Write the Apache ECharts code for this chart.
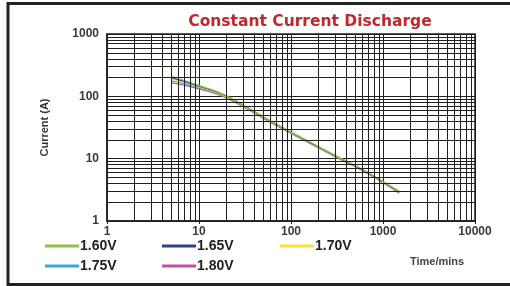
<!DOCTYPE html>
<html>
<head>
<meta charset="utf-8">
<script src="https://cdn.jsdelivr.net/npm/echarts@6/dist/echarts.min.js"></script>
<style>
  html, body { margin: 0; padding: 0; background: #fff; }
  #mycharts { width: 510px; height: 286px; }
</style>
</head>
<body>
<div id="mycharts"></div>
<script>
// data
var seriesNames = ['1.60V', '1.65V', '1.70V', '1.75V', '1.80V'];
var seriesColors = ['#8cc63f', '#2e3f97', '#f9e52c', '#3aa7e3', '#c0529b'];
var timeMins = [5, 10, 20, 60, 150, 340, 560, 930, 1500];
var current160 = [210, 150, 102, 40, 19.5, 10.3, 7.1, 4.6, 3.0];
var current165 = [200, 146, 100, 40, 19.3, 10.2, 7.0, 4.55, 2.95];
var current170 = [190, 142, 98, 39.5, 19, 10.1, 7.0, 4.5, 2.9];
var current175 = [178, 138, 96, 39, 18.8, 10, 6.9, 4.45, 2.85];
var current180 = [166, 132, 93, 38, 18.5, 9.8, 6.8, 4.4, 2.8];
var currents = [current160, current165, current170, current175, current180];

// log paper grid: decades and the 2..9 lines inside them
var xDecades = [1, 10, 100, 1000];
var yDecades = [1, 10, 100];
var minorSteps = [2, 3, 4, 5, 6, 7, 8, 9];

var myChart = echarts.init(document.getElementById('mycharts'));

var gridLines = [];
xDecades.forEach(function (d) {
    minorSteps.forEach(function (s) { gridLines.push({ xAxis: d * s }); });
});
yDecades.forEach(function (d) {
    minorSteps.forEach(function (s) { gridLines.push({ yAxis: d * s }); });
});

var series = [{
    name: 'grid',
    type: 'line',
    data: [],
    silent: true,
    markLine: {
        silent: true,
        symbol: 'none',
        label: { show: false },
        lineStyle: { color: '#231f20', width: 1, type: 'solid' },
        data: gridLines
    }
}];
// draw magenta first so green ends up on top
for (var i = seriesNames.length - 1; i >= 0; i--) {
    series.push({
        name: seriesNames[i],
        type: 'line',
        smooth: true,
        symbol: 'none',
        lineStyle: { width: 1.2, color: seriesColors[i] },
        itemStyle: { color: seriesColors[i] },
        data: timeMins.map(function (t, k) { return [t, currents[i][k]]; })
    });
}

var legendPos = [[45, 239], [162, 239], [280, 239], [45, 259], [162, 259]];
var legends = seriesNames.map(function (n, i) {
    return {
        data: [n],
        left: legendPos[i][0],
        top: legendPos[i][1],
        icon: 'rect',
        itemWidth: 34,
        itemHeight: 3,
        itemGap: 0,
        padding: 0,
        selectedMode: false,
        textStyle: {
            fontFamily: 'Liberation Sans',
            fontWeight: 'bold',
            fontSize: 14,
            color: '#222',
            padding: [0, 0, 0, -4]
        }
    };
});

function plainLabel(v) { return String(v); }

var option = {
    animation: false,
    backgroundColor: '#fff',
    title: {
        text: 'Constant Current Discharge',
        left: 305,
        textAlign: 'center',
        top: 9,
        textStyle: {
            fontFamily: 'DejaVu Sans',
            fontWeight: 'bold',
            fontSize: 15.5,
            color: '#c1272d'
        }
    },
    legend: legends,
    grid: {
        left: 107,
        right: 35,
        top: 34,
        bottom: 65,
        show: true,
        borderColor: '#231f20',
        borderWidth: 1.5
    },
    xAxis: {
        type: 'log',
        logBase: 10,
        min: 1,
        max: 10000,
        axisLine: { lineStyle: { color: '#231f20', width: 1.5 } },
        axisTick: { show: true, length: 3, lineStyle: { color: '#231f20' } },
        splitLine: { show: true, lineStyle: { color: '#231f20', width: 1 } },
        axisLabel: {
            formatter: plainLabel,
            fontFamily: 'Liberation Sans',
            fontWeight: 'bold',
            fontSize: 12,
            color: '#3a3a3a',
            margin: 5
        }
    },
    yAxis: {
        type: 'log',
        logBase: 10,
        min: 1,
        max: 1000,
        name: 'Current (A)',
        nameLocation: 'middle',
        nameGap: 57,
        nameTextStyle: {
            fontFamily: 'Liberation Sans',
            fontWeight: 'bold',
            fontSize: 11,
            color: '#333'
        },
        axisLine: { lineStyle: { color: '#231f20', width: 1.5 } },
        axisTick: { show: false },
        splitLine: { show: true, lineStyle: { color: '#231f20', width: 1 } },
        axisLabel: {
            formatter: plainLabel,
            fontFamily: 'Liberation Sans',
            fontWeight: 'bold',
            fontSize: 12,
            color: '#3a3a3a',
            margin: 8
        }
    },
    graphic: [{
        type: 'rect',
        shape: { x: 8, y: 3.5, width: 520, height: 281 },
        style: { fill: 'none', stroke: '#222', lineWidth: 3 },
        silent: true
    }, {
        type: 'text',
        left: 410,
        top: 256,
        style: {
            text: 'Time/mins',
            font: 'bold 11px "Liberation Sans"',
            fill: '#444'
        }
    }],
    series: series
};

myChart.setOption(option);
</script>
</body>
</html>
